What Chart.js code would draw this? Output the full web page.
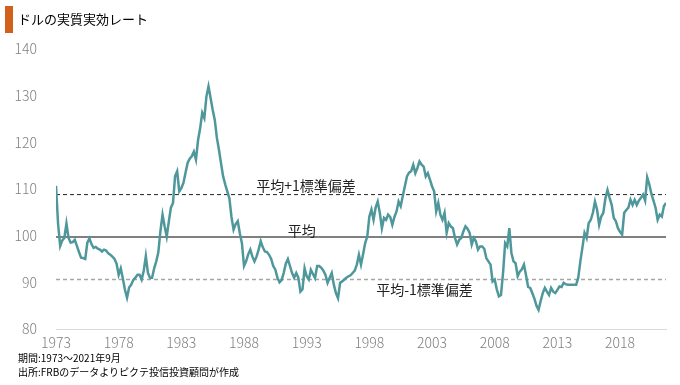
<!DOCTYPE html>
<html lang="ja">
<head>
<meta charset="utf-8">
<title>ドルの実質実効レート</title>
<script src="https://cdn.jsdelivr.net/npm/chart.js@4.4.0/dist/chart.umd.min.js"></script>
<style>
  body { margin: 0; background: #fff; }
  #wrap { position: relative; width: 680px; height: 385px; font-family: "Noto Sans CJK JP", sans-serif; }
  #chart { position: absolute; left: 0; top: 0; }
  .title-bar { position: absolute; left: 5px; top: 6px; width: 8px; height: 27px; background: #d2601a; }
  .title { position: absolute; left: 18px; top: 9px; font-size: 13px; line-height: 19px; color: #000; }
  .note { position: absolute; left: 18px; font-size: 10px; line-height: 13px; color: #000; }
</style>
</head>
<body>
<div id="wrap">
  <canvas id="chart" width="680" height="385"></canvas>
  <div class="title-bar"></div>
  <div class="title">ドルの実質実効レート</div>
  <div class="note" style="top: 351px;">期間:1973～2021年9月</div>
  <div class="note" style="top: 365px;">出所:FRBのデータよりピクテ投信投資顧問が作成</div>
</div>
<script>
// series: one value every 2 months (Jan, Mar, May, Jul, Sep, Nov), Jan 1973 - Sep 2021
const startYear = 1973;
const stepMonths = 2;
const dollarIndex = [
  110.7, 102.5, 97.8, 99, 99.5, 102.6,      // 1973
  99.5, 98.5, 98.6, 99.1, 97.8, 96.5,       // 1974
  95.3, 95.2, 95, 98.5, 99.4, 98.2,         // 1975
  97.4, 97.6, 97.2, 97, 96.6, 97,           // 1976
  96.8, 96.2, 95.9, 95.5, 95, 94,           // 1977
  91.6, 93, 90.8, 88.4, 86.7, 88.9,         // 1978
  89.5, 90.5, 91, 91.6, 91.6, 90.6,         // 1979
  92.5, 95.6, 92, 91, 91, 93,               // 1980
  94.5, 96.5, 101, 104.5, 102, 99.8,        // 1981
  103, 106, 107, 112.7, 113.8, 109.5,       // 1982
  110.2, 111.3, 113.5, 115.6, 116.5, 117,   // 1983
  118, 116.3, 120.5, 123, 126.3, 125.2,     // 1984
  129.8, 132, 129.5, 127, 124.8, 121,       // 1985
  118.4, 115.5, 112.7, 111, 109.5, 108,     // 1986
  104, 101.3, 102.5, 103.1, 100.5, 98.4,    // 1987
  93.5, 94.5, 96, 97, 95.5, 94.5,           // 1988
  95.5, 97, 98.8, 97.5, 96.6, 96.5,         // 1989
  95.9, 95, 93.5, 92.7, 91, 90,             // 1990
  90.5, 92, 94, 95, 93.5, 92,               // 1991
  91, 92, 91, 88, 88.5, 93,                 // 1992
  91.3, 90.6, 92.7, 91.8, 90.9, 93.5,       // 1993
  93.5, 93.1, 92.5, 91.6, 89.9, 91,         // 1994
  92, 89.5, 87.7, 86.6, 89.9, 90.2,         // 1995
  90.6, 91, 91.3, 91.5, 92, 92.5,           // 1996
  93.8, 95.9, 93.8, 96, 98.4, 99.8,         // 1997
  104.1, 105.6, 103.4, 106, 107.3, 104.9,   // 1998
  101.6, 103.8, 103.4, 104.5, 104, 102.3,   // 1999
  104, 105.2, 107.3, 106.3, 108.5, 110.6,   // 2000
  112.7, 113.5, 113.8, 115.2, 113.4, 114.5, // 2001
  115.9, 115.2, 114.8, 112.7, 113.4, 112,   // 2002
  110.6, 109.5, 105.2, 107, 104.5, 103.4,   // 2003
  104.9, 100.6, 102.7, 102, 101.6, 99.5,    // 2004
  98.1, 99.1, 99.5, 100.9, 102, 101.5,      // 2005
  100.6, 98.1, 99.5, 98.8, 97, 97.7,        // 2006
  97.7, 97.2, 95.2, 94.5, 93.8, 90.2,       // 2007
  90.6, 88.5, 87, 87.3, 92, 98.4,           // 2008
  97.7, 101.6, 96.3, 94.5, 94.1, 91.3,      // 2009
  92.3, 92.8, 93.8, 91.5, 89, 88.8,         // 2010
  87.7, 86.5, 85, 84.1, 86, 87.7,           // 2011
  88.8, 88, 87.3, 88.8, 88, 87.7,           // 2012
  88.4, 89.1, 89, 89.9, 89.6, 89.5,         // 2013
  89.5, 89.5, 89.5, 89.5, 91, 94.5,         // 2014
  97.5, 100.6, 99.5, 102.7, 103.4, 104.9,   // 2015
  107.3, 105.6, 102.3, 104.1, 104.9, 108,   // 2016
  109.8, 108.1, 106.6, 103.8, 103.1, 101.6, // 2017
  100.8, 100.2, 104.9, 105.5, 106, 107.7,   // 2018
  106.6, 107.7, 106.6, 107.5, 108.1, 108.8, // 2019
  107.5, 112.5, 111, 109, 107.5, 106,       // 2020
  103.4, 104.5, 104.1, 106.3, 107           // 2021
];

const yearTicks = [1973, 1978, 1983, 1988, 1993, 1998, 2003, 2008, 2013, 2018];
const yMin = 80, yMax = 140, yStep = 10;

const meanLevel = 99.7;
const upperLevel = 108.8;   // mean + 1 sd
const lowerLevel = 90.6;    // mean - 1 sd
const refLabels = ['平均+1標準偏差', '平均', '平均-1標準偏差'];

const xMin = startYear;
const xMax = startYear + (dollarIndex.length - 1) * stepMonths / 12;

const seriesPoints = dollarIndex.map((v, i) => ({ x: startYear + i * stepMonths / 12, y: v }));
const flatLine = (level) => [{ x: xMin, y: level }, { x: xMax, y: level }];

// text next to the reference lines
const refLabelPlugin = {
  id: 'refLabels',
  afterDatasetsDraw(chart) {
    const { ctx, scales: { x, y } } = chart;
    ctx.save();
    ctx.font = '14px "Noto Sans CJK JP"';
    ctx.fillStyle = '#222';
    ctx.textAlign = 'center';
    ctx.textBaseline = 'middle';
    ctx.fillText(refLabels[0], x.getPixelForValue(1992.95), y.getPixelForValue(upperLevel) - 9);
    ctx.fillText(refLabels[1], x.getPixelForValue(1992.6), y.getPixelForValue(meanLevel) - 6);
    ctx.fillText(refLabels[2], x.getPixelForValue(2002.4), y.getPixelForValue(lowerLevel) + 10);
    ctx.restore();
  }
};

const tickFont = { family: '"Noto Sans CJK JP"', size: 14, weight: 300 };

new Chart(document.getElementById('chart').getContext('2d'), {
  type: 'line',
  data: {
    datasets: [
      {
        data: seriesPoints,
        borderColor: '#4e979b',
        borderWidth: 2.5,
        pointRadius: 0,
        tension: 0
      },
      {
        data: flatLine(upperLevel),
        borderColor: '#222',
        borderWidth: 1,
        borderDash: [4, 3],
        pointRadius: 0
      },
      {
        data: flatLine(meanLevel),
        borderColor: '#808080',
        borderWidth: 2,
        pointRadius: 0
      },
      {
        data: flatLine(lowerLevel),
        borderColor: '#a6a6a6',
        borderWidth: 1.5,
        borderDash: [4, 3],
        pointRadius: 0
      }
    ]
  },
  options: {
    responsive: false,
    animation: false,
    layout: { padding: { left: 0, top: 49, right: 14, bottom: 26 } },
    plugins: {
      legend: { display: false },
      tooltip: { enabled: false }
    },
    scales: {
      x: {
        type: 'linear',
        min: xMin,
        max: xMax,
        grid: { display: false, drawTicks: false },
        border: { display: true, color: '#d9d9d9', width: 1 },
        afterBuildTicks: (s) => { s.ticks = yearTicks.map(v => ({ value: v })); },
        afterFit: (s) => { s.height = 30; },
        ticks: {
          autoSkip: false,
          maxRotation: 0,
          padding: 5,
          color: '#808080',
          font: tickFont,
          callback: (v) => String(v)
        }
      },
      y: {
        min: yMin,
        max: yMax,
        grid: { display: false, drawTicks: false },
        border: { display: false },
        afterFit: (s) => { s.width = 56; },
        ticks: {
          stepSize: yStep,
          padding: 19,
          color: '#808080',
          font: tickFont
        }
      }
    }
  },
  plugins: [refLabelPlugin]
});
</script>
</body>
</html>
